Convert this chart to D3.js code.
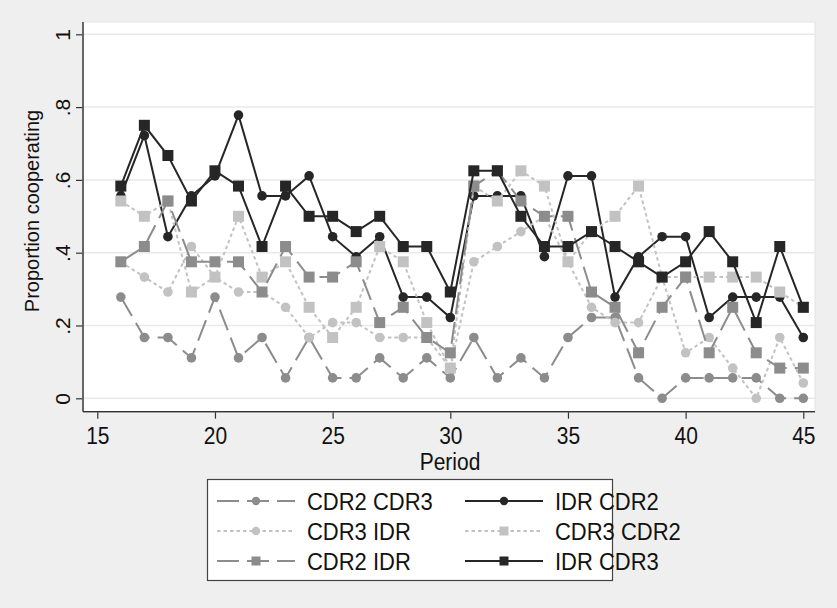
<!DOCTYPE html>
<html>
<head>
<meta charset="utf-8">
<script src="https://cdn.jsdelivr.net/npm/d3@7"></script>
<style>
  html, body { margin: 0; padding: 0; background: #efefef; }
  svg { display: block; }
  text { font-family: "Liberation Sans", Arial, sans-serif; fill: #111; }
</style>
</head>
<body>
<svg id="chart" width="837" height="608"></svg>
<script>
// ---- data ----
const periods = [16,17,18,19,20,21,22,23,24,25,26,27,28,29,30,31,32,33,34,35,36,37,38,39,40,41,42,43,44,45];
const cdr2cdr3 = [.278,.167,.167,.111,.278,.111,.167,.056,.167,.056,.056,.111,.056,.111,.056,.167,.056,.111,.056,.167,.222,.222,.056,0,.056,.056,.056,.056,0,0];
const idrcdr2  = [.556,.722,.444,.556,.611,.778,.556,.556,.611,.444,.389,.444,.278,.278,.222,.556,.556,.556,.389,.611,.611,.278,.389,.444,.444,.222,.278,.278,.278,.167];
const cdr3idr  = [.375,.333,.292,.417,.333,.292,.292,.25,.167,.208,.208,.167,.167,.167,.083,.375,.417,.458,.5,.375,.25,.208,.208,.333,.125,.167,.083,0,.167,.042];
const cdr3cdr2 = [.542,.5,.542,.292,.333,.5,.333,.375,.25,.167,.25,.417,.375,.208,.083,.583,.542,.625,.583,.375,.458,.5,.583,.333,.333,.333,.333,.333,.292,.25];
const cdr2idr  = [.375,.417,.542,.375,.375,.375,.292,.417,.333,.333,.375,.208,.25,.167,.125,.583,.625,.542,.5,.5,.292,.25,.125,.25,.333,.125,.25,.125,.083,.083];
const idrcdr3  = [.583,.75,.667,.542,.625,.583,.417,.583,.5,.5,.458,.5,.417,.417,.292,.625,.625,.5,.417,.417,.458,.417,.375,.333,.375,.458,.375,.208,.417,.25];
const seriesNames = ["CDR2 CDR3","IDR CDR2","CDR3 IDR","CDR3 CDR2","CDR2 IDR","IDR CDR3"];
const xTicks = [15,20,25,30,35,40,45];
const yTicks = [0,.2,.4,.6,.8,1];
const yTickLabels = ["0",".2",".4",".6",".8","1"];
const xTitle = "Period";
const yTitle = "Proportion cooperating";

// ---- styles ----
const DARK = "#262626", MED = "#8c8c8c", LIGHT = "#c2c2c2";
const LONG = "22,8", SHORT = "3.5,3";
const series = [
  {name: seriesNames[0], values: cdr2cdr3, color: MED,   dash: LONG,  shape: "circle"},
  {name: seriesNames[1], values: idrcdr2,  color: DARK,  dash: null,  shape: "circle"},
  {name: seriesNames[2], values: cdr3idr,  color: LIGHT, dash: SHORT, shape: "circle"},
  {name: seriesNames[3], values: cdr3cdr2, color: LIGHT, dash: SHORT, shape: "square"},
  {name: seriesNames[4], values: cdr2idr,  color: MED,   dash: LONG,  shape: "square"},
  {name: seriesNames[5], values: idrcdr3,  color: DARK,  dash: null,  shape: "square"}
];
const STRETCH = 1.1;

const svg = d3.select("#chart");
const plot = {left: 83, right: 815, top: 22, bottom: 411.7};

const x = d3.scaleLinear().domain([15, 45]).range([97.3, 803.3]);
const y = d3.scaleLinear().domain([0, 1]).range([398.3, 34.3]);

// plot region
svg.append("rect").attr("x", plot.left).attr("y", plot.top)
  .attr("width", plot.right - plot.left).attr("height", plot.bottom - plot.top)
  .attr("fill", "#ffffff");

// gridlines
svg.append("g").selectAll("line").data(yTicks).join("line")
  .attr("x1", plot.left).attr("x2", plot.right)
  .attr("y1", d => y(d)).attr("y2", d => y(d))
  .attr("stroke", "#e9e9e9").attr("stroke-width", 1.5);

// y axis
const yAxis = svg.append("g").attr("transform", `translate(${plot.left},0)`)
  .call(d3.axisLeft(y).tickValues(yTicks).tickFormat((d, i) => yTickLabels[i]).tickSize(7).tickPadding(5));
yAxis.select(".domain").attr("d", `M0,${plot.top}V${plot.bottom}`).attr("stroke", "#333").attr("stroke-width", 1.2);
yAxis.selectAll(".tick line").attr("stroke", "#333").attr("stroke-width", 1.2);
yAxis.selectAll(".tick text")
  .attr("x", 0).attr("y", 0).attr("dy", null)
  .attr("text-anchor", "middle")
  .attr("transform", "translate(-13,0) rotate(-90)")
  .style("font-size", "21px").style("fill", "#111");

// x axis
const xAxis = svg.append("g").attr("transform", `translate(0,${plot.bottom})`)
  .call(d3.axisBottom(x).tickValues(xTicks).tickFormat(d3.format("d")).tickSize(7).tickPadding(6));
xAxis.select(".domain").attr("d", `M${plot.left},0H${plot.right}`).attr("stroke", "#333").attr("stroke-width", 1.2);
xAxis.selectAll(".tick line").attr("stroke", "#333").attr("stroke-width", 1.2);
xAxis.selectAll(".tick text")
  .attr("y", 0).attr("dy", null)
  .attr("transform", `translate(0,32.5) scale(1,${STRETCH})`)
  .style("font-size", "21px").style("fill", "#111");

// titles
svg.append("text").attr("transform", `translate(450,469.5) scale(1,${STRETCH})`)
  .attr("text-anchor", "middle").style("font-size", "21px").text(xTitle);
svg.append("text").attr("transform", `translate(39,211) rotate(-90)`)
  .attr("text-anchor", "middle").style("font-size", "20px").text(yTitle);

// series
const line = d3.line().x((d, i) => x(periods[i])).y(d => y(d));
const CR = 4.8, SQ = 11;
function drawMarker(g, shape, color, cx, cy, r, s) {
  if (shape === "circle") {
    g.append("circle").attr("cx", cx).attr("cy", cy).attr("r", r).attr("fill", color);
  } else {
    g.append("rect").attr("x", cx - s / 2).attr("y", cy - s / 2).attr("width", s).attr("height", s).attr("fill", color);
  }
}
series.forEach(s => {
  const g = svg.append("g");
  g.append("path").datum(s.values).attr("d", line)
    .attr("fill", "none").attr("stroke", s.color).attr("stroke-width", 2)
    .attr("stroke-dasharray", s.dash);
  s.values.forEach((v, i) => drawMarker(g, s.shape, s.color, x(periods[i]), y(v), CR, SQ));
});

// plot border
svg.append("rect").attr("x", plot.left).attr("y", plot.top)
  .attr("width", plot.right - plot.left).attr("height", plot.bottom - plot.top)
  .attr("fill", "none").attr("stroke", "#e4e4e4").attr("stroke-width", 1);
svg.append("line").attr("x1", plot.left).attr("x2", plot.left).attr("y1", plot.top).attr("y2", plot.bottom).attr("stroke", "#333").attr("stroke-width", 1.2);
svg.append("line").attr("x1", plot.left).attr("x2", plot.right).attr("y1", plot.bottom).attr("y2", plot.bottom).attr("stroke", "#333").attr("stroke-width", 1.2);

// legend
const lg = svg.append("g");
lg.append("rect").attr("x", 207.5).attr("y", 479.5).attr("width", 405).attr("height", 101)
  .attr("fill", "#fff").attr("stroke", "#444").attr("stroke-width", 1.2);
const rowY = [501, 531, 561];
const colX = [{l1: 217, l2: 295, tx: 307}, {l1: 465, l2: 543, tx: 555}];
series.forEach((s, i) => {
  const row = Math.floor(i / 2), col = i % 2;
  const c = colX[col], yy = rowY[row];
  lg.append("line").attr("x1", c.l1).attr("x2", c.l2).attr("y1", yy).attr("y2", yy)
    .attr("stroke", s.color).attr("stroke-width", 2).attr("stroke-dasharray", s.dash);
  drawMarker(lg, s.shape, s.color, (c.l1 + c.l2) / 2, yy, 4.2, 9);
  lg.append("text").attr("transform", `translate(${c.tx},${yy + 8.5}) scale(1,1.08)`)
    .style("font-size", "22px").text(s.name);
});
</script>
</body>
</html>
